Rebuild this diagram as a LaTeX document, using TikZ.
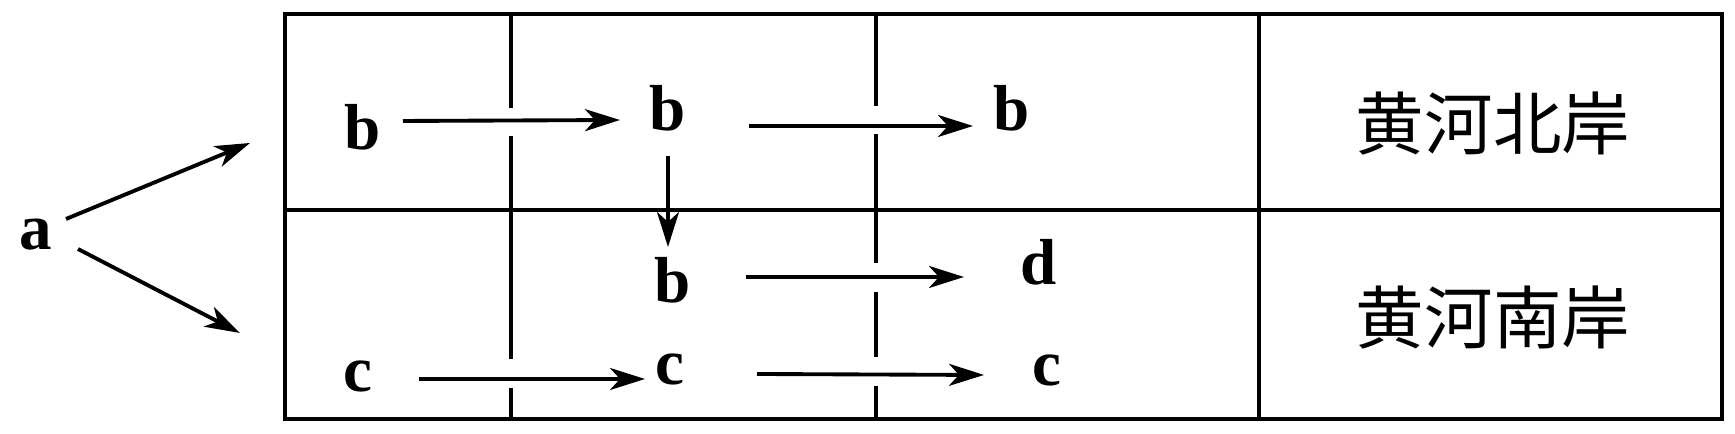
\documentclass[tikz,border=0pt]{standalone}
\usepackage{fontspec}
\setmainfont{Liberation Serif}
\newfontfamily\cjk{Noto Sans CJK SC}
\usetikzlibrary{arrows.meta}
\begin{document}
\begin{tikzpicture}[x=0.1mm,y=-0.1mm,line width=1.1pt,
  arr/.style={-{Stealth[length=3.5mm,width=2.2mm,inset=1mm]}},
  gene/.style={inner sep=0pt,font=\fontsize{18.5}{18.5}\selectfont\bfseries},
  bank/.style={inner sep=0pt,font=\fontsize{19.5}{19.5}\selectfont\cjk}]
\useasboundingbox (0,0) rectangle (1735,434);
\draw (285,14) rectangle (1722,419);
\draw (285,210) -- (1722,210);
\draw (1259,14) -- (1259,419);
\draw (511,14) -- (511,108) (511,136) -- (511,359) (511,388) -- (511,419);
\draw (876,14) -- (876,106) (876,134) -- (876,263) (876,292) -- (876,357) (876,386) -- (876,419);
\node[bank] (north) at (1493,124) {黄河北岸};
\node[bank] (south) at (1493,318) {黄河南岸};
\node[gene] (a) at (36,235) {a};
\node[gene] (b1) at (363,127) {b};
\node[gene] (b2) at (668,108) {b};
\node[gene] (b3) at (1012,108) {b};
\node[gene] (b4) at (673,280) {b};
\node[gene] (d) at (1039,262) {d};
\node[gene] (c1) at (358,376) {c};
\node[gene] (c2) at (670,369) {c};
\node[gene] (c3) at (1047,370) {c};
\coordinate (up) at (250,143);
\coordinate (down) at (240,333);
\draw[arr] ([shift={(30,-16)}]a.center) -- (up);
\draw[arr] ([shift={(42,14)}]a.center) -- (down);
\draw[arr] ([shift={(40,-6)}]b1.center) -- ([shift={(-48,12)}]b2.center);
\draw[arr] ([shift={(81,18)}]b2.center) -- ([shift={(-39,18)}]b3.center);
\draw[arr] ([shift={(0,48)}]b2.center) -- ([shift={(-5,-33)}]b4.center);
\draw[arr] ([shift={(73,-3)}]b4.center) -- ([shift={(-75,15)}]d.center);
\draw[arr] ([shift={(61,3)}]c1.center) -- ([shift={(-25,10)}]c2.center);
\draw[arr] ([shift={(87,5)}]c2.center) -- ([shift={(-63,5)}]c3.center);
\end{tikzpicture}
\end{document}
